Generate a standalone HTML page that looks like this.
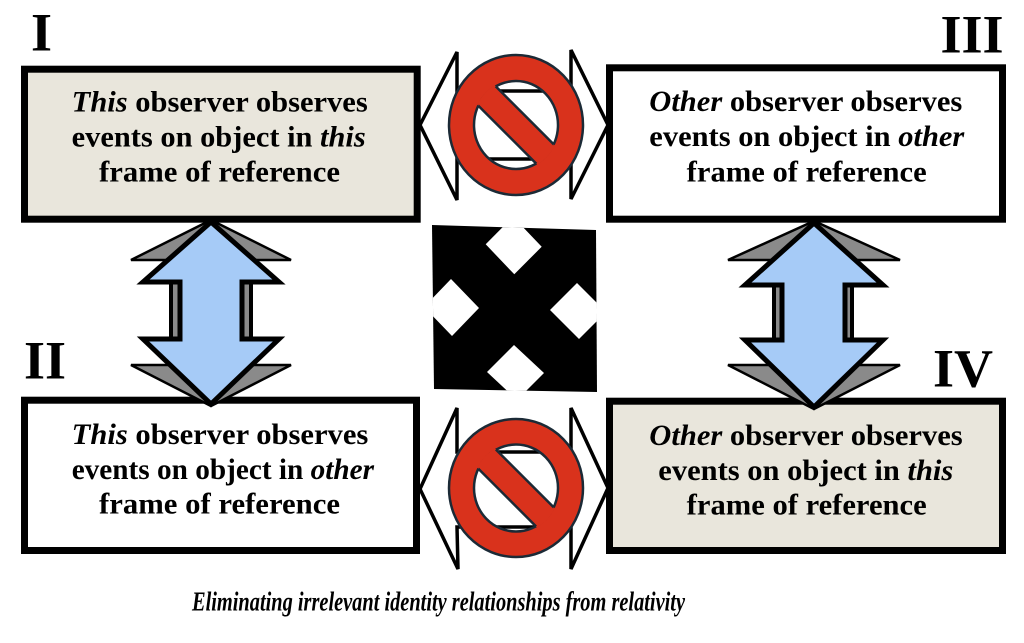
<!DOCTYPE html>
<html>
<head>
<meta charset="utf-8">
<style>
html,body{margin:0;padding:0;background:#fff;}
svg{display:block;}
text{font-family:"Liberation Serif","Times New Roman",serif;font-weight:bold;fill:#000;}
</style>
</head>
<body>
<svg width="1024" height="643" viewBox="0 0 1024 643" xmlns="http://www.w3.org/2000/svg">
<defs>
  <clipPath id="xclip"><polygon points="432,225 596,230 597,392 434,389"/></clipPath>
  <clipPath id="hole1"><ellipse cx="516" cy="125" rx="43.5" ry="45.5"/></clipPath>
  <clipPath id="hole1i"><ellipse cx="516" cy="125" rx="42" ry="44"/></clipPath>
  <clipPath id="hole2"><ellipse cx="516" cy="488" rx="43.5" ry="45"/></clipPath>
  <clipPath id="hole2i"><ellipse cx="516" cy="488" rx="42" ry="43.5"/></clipPath>
</defs>

<!-- Boxes -->
<rect x="24.5" y="69.2" width="392.7" height="150" fill="#e9e6dc" stroke="#000" stroke-width="7"/>
<rect x="609.5" y="67.8" width="393" height="151.4" fill="#fff" stroke="#000" stroke-width="7"/>
<rect x="24.5" y="400.2" width="392" height="150.3" fill="#fff" stroke="#000" stroke-width="7"/>
<rect x="609.5" y="401.2" width="393" height="149.3" fill="#e9e6dc" stroke="#000" stroke-width="7"/>

<!-- Box texts -->
<g font-size="30">
  <text x="71.7" y="111.5" textLength="296" lengthAdjust="spacingAndGlyphs"><tspan font-style="italic">This</tspan> observer observes</text>
  <text x="71.7" y="146.5" textLength="294" lengthAdjust="spacingAndGlyphs">events on object in <tspan font-style="italic">this</tspan></text>
  <text x="99" y="181.5" textLength="241" lengthAdjust="spacingAndGlyphs">frame of reference</text>

  <text x="649.3" y="111" textLength="313" lengthAdjust="spacingAndGlyphs"><tspan font-style="italic">Other</tspan> observer observes</text>
  <text x="649.3" y="146" textLength="315" lengthAdjust="spacingAndGlyphs">events on object in <tspan font-style="italic">other</tspan></text>
  <text x="686.7" y="181.5" textLength="240" lengthAdjust="spacingAndGlyphs">frame of reference</text>

  <text x="71.7" y="444" textLength="296.6" lengthAdjust="spacingAndGlyphs"><tspan font-style="italic">This</tspan> observer observes</text>
  <text x="71.7" y="479" textLength="302.3" lengthAdjust="spacingAndGlyphs">events on object in <tspan font-style="italic">other</tspan></text>
  <text x="99" y="513.5" textLength="241" lengthAdjust="spacingAndGlyphs">frame of reference</text>

  <text x="649.3" y="445" textLength="313.4" lengthAdjust="spacingAndGlyphs"><tspan font-style="italic">Other</tspan> observer observes</text>
  <text x="658.3" y="480" textLength="295" lengthAdjust="spacingAndGlyphs">events on object in <tspan font-style="italic">this</tspan></text>
  <text x="686.7" y="514.5" textLength="240" lengthAdjust="spacingAndGlyphs">frame of reference</text>
</g>

<!-- Roman numeral labels -->
<g font-size="54">
  <text x="31" y="50.7">I</text>
  <text x="940.5" y="52.3">III</text>
  <text x="24" y="378.3">II</text>
  <text x="933" y="386.7">IV</text>
</g>

<!-- Horizontal white double arrows -->
<polygon points="420,125 457,52 457,91 571,91 571,50 608,125 571,199 571,159 457,159 457,200" fill="#fff" stroke="#000" stroke-width="3.5" stroke-linejoin="miter"/>
<polygon points="420,489 457,408 457,452 571,452 571,408 608,488 571,569 571,527 457,527 458,569" fill="#fff" stroke="#000" stroke-width="3.5" stroke-linejoin="miter"/>

<!-- No-signs -->
<g>
  <path d="M449,125 a67,70 0 1,0 134,0 a67,70 0 1,0 -134,0 Z M474,125 a42,44 0 1,0 84,0 a42,44 0 1,0 -84,0 Z" fill="#d9321c" fill-rule="evenodd" stroke="#1b2a36" stroke-width="2.5"/>
  <g clip-path="url(#hole1)">
    <polygon points="445.2,35.8 605.2,195.8 586.8,214.2 426.8,54.2" fill="#d9321c"/>
  </g>
  <g clip-path="url(#hole1i)" stroke="#1b2a36" stroke-width="2.5">
    <line x1="435.2" y1="25.8" x2="615.2" y2="205.8"/>
    <line x1="416.8" y1="44.2" x2="596.8" y2="224.2"/>
  </g>
</g>
<g>
  <path d="M449,488 a67,69 0 1,0 134,0 a67,69 0 1,0 -134,0 Z M474,488 a42,43.5 0 1,0 84,0 a42,43.5 0 1,0 -84,0 Z" fill="#d9321c" fill-rule="evenodd" stroke="#1b2a36" stroke-width="2.5"/>
  <g clip-path="url(#hole2)">
    <polygon points="445.2,398.8 605.2,558.8 586.8,577.2 426.8,417.2" fill="#d9321c"/>
  </g>
  <g clip-path="url(#hole2i)" stroke="#1b2a36" stroke-width="2.5">
    <line x1="435.2" y1="388.8" x2="615.2" y2="568.8"/>
    <line x1="416.8" y1="407.2" x2="596.8" y2="587.2"/>
  </g>
</g>

<!-- Black cross-arrows icon -->
<polygon points="432,225 596,230 597,392 434,389" fill="#000"/>
<g clip-path="url(#xclip)" fill="#fff">
  <polygon points="485.7,244.3 513,216.7 541.7,246.7 514.3,274.3"/>
  <polygon points="451,279 479,308 452,336 424,307"/>
  <polygon points="577,283 606,312 579,339 550,310"/>
  <polygon points="514,345 544,373 517,400 487,372"/>
</g>

<!-- Left vertical blue double arrow -->
<g stroke="#000" stroke-linejoin="miter">
  <polygon points="211,220 131,260 291,260" fill="#8a8a8a" stroke-width="2.5"/>
  <polygon points="211,406 131,365 291,365" fill="#8a8a8a" stroke-width="2.5"/>
  <rect x="171" y="282" width="80" height="57" fill="#8a8a8a" stroke-width="4"/>
  <polygon points="211,222 279,282 242,282 242,339 279,339 211,404 143,339 180,339 180,282 143,282" fill="#a6cbf7" stroke-width="5"/>
</g>

<!-- Right vertical blue double arrow -->
<g stroke="#000" stroke-linejoin="miter">
  <polygon points="814,221 728,260 900,260" fill="#8a8a8a" stroke-width="2.5"/>
  <polygon points="814,409 728,365 900,365" fill="#8a8a8a" stroke-width="2.5"/>
  <rect x="774" y="285" width="78" height="55" fill="#8a8a8a" stroke-width="4"/>
  <polygon points="814,223 883,285 845,285 845,340 883,340 814,407 745,340 782,340 782,285 745,285" fill="#a6cbf7" stroke-width="5"/>
</g>

<!-- Caption -->
<text x="192" y="610.5" font-size="27" font-style="italic" textLength="493" lengthAdjust="spacingAndGlyphs">Eliminating irrelevant identity relationships from relativity</text>
</svg>
</body>
</html>
